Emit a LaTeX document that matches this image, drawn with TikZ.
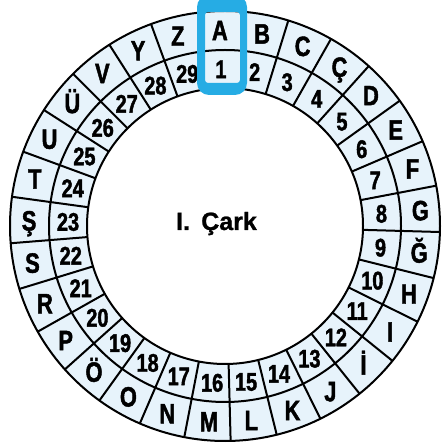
\documentclass[tikz,border=0pt]{standalone}
\usepackage{fontspec}
\usetikzlibrary{calc}
\setmainfont{Liberation Sans}
\newfontfamily\ringfont[FakeStretch=0.78,FakeBold=1.6]{Liberation Sans Bold}
\newfontfamily\titlefont[FakeBold=1]{Liberation Sans Bold}
\definecolor{cellfill}{RGB}{231,243,251}
\definecolor{markblue}{RGB}{38,172,228}
\begin{document}
\begin{tikzpicture}[x=1pt,y=1pt,
  ringline/.style={line width=2pt, black},
  letterlbl/.style={font=\ringfont\fontsize{28}{28}\selectfont, inner sep=0pt, text height=20pt, text depth=0pt, anchor=center},
  numlbl/.style={font=\ringfont\fontsize{25.5}{25.5}\selectfont, inner sep=0pt, text height=18.3pt, text depth=0pt, anchor=center},
  titlelbl/.style={font=\titlefont\fontsize{25}{25}\selectfont, inner sep=0pt, anchor=base}]
\useasboundingbox (0,0) rectangle (442,447);
\coordinate (C) at (225,221);
\def\stp{12.4138}
\def\start{91.5}
% ring fill
\fill[cellfill, even odd rule] (C) circle[radius=215] (C) circle[radius=138];
% circles
\draw[ringline] (C) circle[radius=215];
\draw[ringline] (C) circle[radius=176];
\draw[ringline] (C) circle[radius=138];
% dividers (skip the two beside A)
\foreach \k in {1,...,27}{
  \pgfmathsetmacro{\ang}{\start - 6.2069 - \k*\stp}
  \draw[ringline] ($(C)+(\ang:176)$) -- ($(C)+(\ang:215)$);
  \draw[ringline] ($(C)+(\ang:138)$) -- ($(C)+(\ang:176)$);
}
% letters
\foreach \l [count=\i from 0] in {A,B,C,Ç,D,E,F,G,Ğ,H,I,İ,J,K,L,M,N,O,Ö,P,R,S,Ş,T,U,Ü,V,Y,Z}{
  \pgfmathsetmacro{\ang}{\start - \i*\stp}
  \node[letterlbl] (L\i) at ($(C)+(\ang:196)$) {\l};
}
% numbers
\foreach \n [count=\i from 0] in {1,...,29}{
  \pgfmathsetmacro{\ang}{\start - \i*\stp}
  \node[numlbl] (N\i) at ($(C)+(\ang:157)$) {\n};
}
% title
\node[titlelbl] (title) at (216.5,217) {I.\hspace{0.45em}Çark};
% highlight box
\fill[markblue, even odd rule]
  [rounded corners=12pt] (197,352) rectangle (247,452)
  [rounded corners=3pt] (205,364) rectangle (240,435);
\end{tikzpicture}
\end{document}
